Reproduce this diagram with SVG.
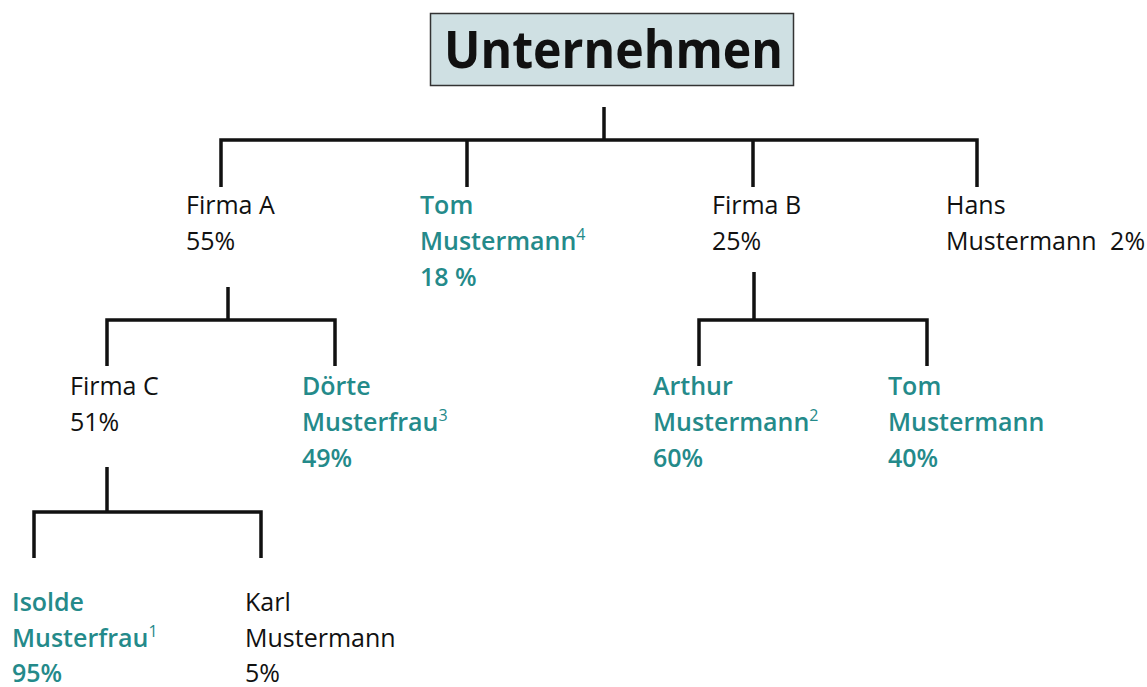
<svg xmlns="http://www.w3.org/2000/svg" width="1147" height="687" viewBox="0 0 1147 687">
<style>
.t{font-family:"Open Sans","Noto Sans","Liberation Sans",sans-serif;font-size:25px;fill:#111}
.g{fill:#248a8a;font-weight:600}
.sup{font-size:16px;font-weight:normal}
.title{font-family:"Open Sans","Noto Sans","Liberation Sans",sans-serif;font-size:52px;font-weight:bold;fill:#111}
.c{fill:none;stroke:#111;stroke-width:3.5;stroke-linejoin:miter;stroke-linecap:butt}
</style>
<rect width="1147" height="687" fill="#fff"/>
<g id="connectors">
<path class="c" d="M604 107V140M221 187V140H977V187M467 140V187M753 140V187"/>
<path class="c" d="M228 287V320M107 366V320H335V366"/>
<path class="c" d="M754 272V320M699 366V320H927V366"/>
<path class="c" d="M107 467V512M34 558V512H261V558"/>
</g>
<g id="unternehmen">
<rect x="430.5" y="13.5" width="363" height="72" fill="#cfe0e3" stroke="#333" stroke-width="1.5"/>
<text class="title" x="444" y="68" textLength="339" lengthAdjust="spacingAndGlyphs">Unternehmen</text>
</g>
<g id="firma-a">
<text class="t" x="186" y="214">Firma A</text>
<text class="t" x="186" y="250">55%</text>
</g>
<g id="tom-1">
<text class="t g" x="420" y="214">Tom</text>
<text class="t g" x="420" y="250">Mustermann<tspan class="sup" dy="-10">4</tspan></text>
<text class="t g" x="420" y="286">18 %</text>
</g>
<g id="firma-b">
<text class="t" x="712" y="214">Firma B</text>
<text class="t" x="712" y="250">25%</text>
</g>
<g id="hans">
<text class="t" x="946" y="214">Hans</text>
<text class="t" x="946" y="250">Mustermann<tspan dx="7"> 2%</tspan></text>
</g>
<g id="firma-c">
<text class="t" x="70" y="395">Firma C</text>
<text class="t" x="70" y="431">51%</text>
</g>
<g id="doerte">
<text class="t g" x="302" y="395">Dörte</text>
<text class="t g" x="302" y="431">Musterfrau<tspan class="sup" dy="-10">3</tspan></text>
<text class="t g" x="302" y="467">49%</text>
</g>
<g id="arthur">
<text class="t g" x="653" y="395">Arthur</text>
<text class="t g" x="653" y="431">Mustermann<tspan class="sup" dy="-10">2</tspan></text>
<text class="t g" x="653" y="467">60%</text>
</g>
<g id="tom-2">
<text class="t g" x="888" y="395">Tom</text>
<text class="t g" x="888" y="431">Mustermann</text>
<text class="t g" x="888" y="467">40%</text>
</g>
<g id="isolde">
<text class="t g" x="12" y="611">Isolde</text>
<text class="t g" x="12" y="647">Musterfrau<tspan class="sup" dy="-10">1</tspan></text>
<text class="t g" x="12" y="682">95%</text>
</g>
<g id="karl">
<text class="t" x="245" y="611">Karl</text>
<text class="t" x="245" y="647">Mustermann</text>
<text class="t" x="245" y="682">5%</text>
</g>
</svg>
